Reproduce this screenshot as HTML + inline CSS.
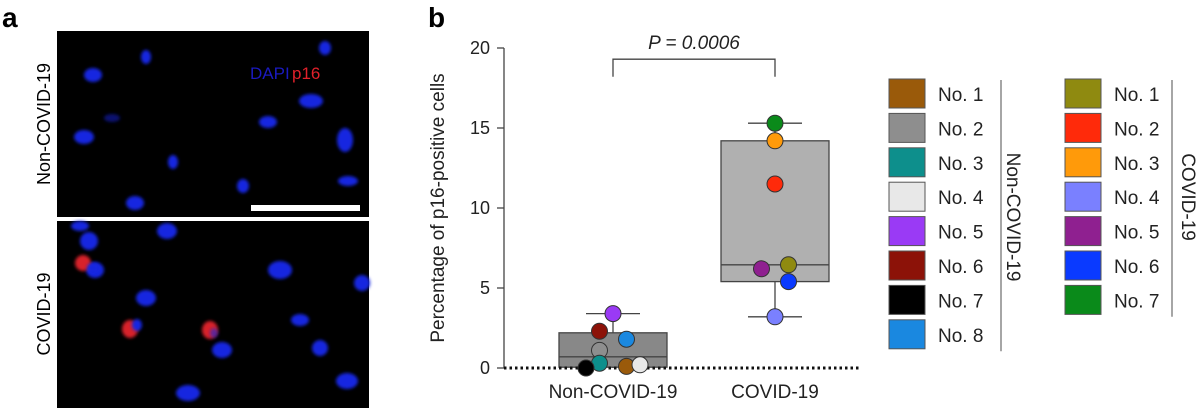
<!DOCTYPE html>
<html><head><meta charset="utf-8"><style>
body{margin:0;background:#fff;width:1200px;height:408px;overflow:hidden;font-family:"Liberation Sans",sans-serif}
svg{display:block}
</style></head><body>
<svg width="1200" height="408">
<defs><filter id="bl" x="-50%" y="-50%" width="200%" height="200%"><feGaussianBlur stdDeviation="1.5"/></filter></defs>
<g>
<text x="2" y="27" font-size="28" font-weight="bold">a</text>
<rect x="57" y="31" width="312" height="186" fill="#000"/>
<rect x="57" y="221" width="312" height="187" fill="#000"/>
<g fill="#1525e0" filter="url(#bl)">
<ellipse cx="93" cy="75" rx="9" ry="7"/><ellipse cx="146" cy="57" rx="5" ry="7"/><ellipse cx="325" cy="48" rx="6" ry="7"/>
<ellipse cx="311" cy="101" rx="12" ry="7"/><ellipse cx="84" cy="137" rx="10" ry="7"/><ellipse cx="268" cy="122" rx="9" ry="6"/>
<ellipse cx="173" cy="162" rx="5" ry="7"/><ellipse cx="243" cy="186" rx="6" ry="7"/><ellipse cx="135" cy="203" rx="9" ry="7"/>
<ellipse cx="345" cy="140" rx="8" ry="12"/><ellipse cx="348" cy="181" rx="10" ry="5"/><ellipse cx="112" cy="118" rx="8" ry="4" opacity=".5"/>
<ellipse cx="80" cy="226" rx="9" ry="5"/><ellipse cx="89" cy="241" rx="9" ry="9"/><ellipse cx="167" cy="231" rx="10" ry="8"/>
<ellipse cx="280" cy="270" rx="12" ry="9"/><ellipse cx="146" cy="298" rx="10" ry="8"/><ellipse cx="300" cy="320" rx="9" ry="6"/>
<ellipse cx="222" cy="350" rx="10" ry="8"/><ellipse cx="320" cy="348" rx="8" ry="8"/><ellipse cx="347" cy="381" rx="11" ry="8"/>
<ellipse cx="188" cy="393" rx="12" ry="8"/><ellipse cx="362" cy="283" rx="8" ry="8"/><ellipse cx="95" cy="270" rx="9" ry="8"/>
</g>
<g fill="#d8202a" filter="url(#bl)">
<ellipse cx="83" cy="263" rx="8" ry="8"/><ellipse cx="130" cy="329" rx="8" ry="9"/><ellipse cx="210" cy="330" rx="8" ry="9"/>
</g>
<g fill="#1525e0" filter="url(#bl)"><ellipse cx="137" cy="325" rx="5" ry="6"/><ellipse cx="214" cy="333" rx="4" ry="5" opacity=".6"/><ellipse cx="93" cy="268" rx="6" ry="5"/></g>
<text x="250" y="79" font-size="17" fill="#1a1ac0">DAPI</text>
<text x="292" y="79" font-size="17" fill="#e0202a">p16</text>
<rect x="251" y="205" width="109" height="6" fill="#fff"/>
<text transform="translate(50,124) rotate(-90)" text-anchor="middle" font-size="18">Non-COVID-19</text>
<text transform="translate(50,314) rotate(-90)" text-anchor="middle" font-size="18">COVID-19</text>
</g>
<text x="428" y="27" font-size="28" font-weight="bold">b</text>
<g id="chart"></g>
<g id="legend"></g>
</svg>
<script>
const groups=["Non-COVID-19","COVID-19"];
const yTicks=[0,5,10,15,20];
const nonValues=[0.1,1.1,0.3,0.2,3.4,2.3,0,1.8];
const nonColors=["#9a5a0a","#8e8e8e","#0d8f8c","#e8e8e8","#9a3af5","#8c1208","#000000","#1a88e0"];
const nonJitter=[1,-1,-1,2,0,-1,-2,1];
const covValues=[6.45,11.5,14.2,3.2,6.2,5.4,15.3];
const covColors=["#8f8a10","#ff2a0a","#ff9a0a","#7a80ff","#8f2090","#0a3aff","#0a8a1a"];
const covJitter=[1,0,0,0,-1,1,0];
const boxStats=[{lo:0,q1:0.05,med:0.7,q3:2.2,hi:3.4},{lo:3.2,q1:5.4,med:6.45,q3:14.2,hi:15.3}];
const boxFill=["#888","#b0b0b0"];
const pText="P = 0.0006";
const NS="http://www.w3.org/2000/svg";
const y=v=>368-v*16;
const x=i=>613+i*162;
const jit=13.5;
function mk(p,t,a){const e=document.createElementNS(NS,t);for(const k in a)e.setAttribute(k,a[k]);p.appendChild(e);return e;}
const c=document.getElementById('chart');
let ax=mk(c,'line',{x1:504,x2:504,y1:y(20),y2:y(0),stroke:'#444','stroke-width':1.3});


yTicks.forEach(t=>{
 let l=mk(c,'line',{x1:497,x2:504,y1:y(t),y2:y(t),stroke:'#444','stroke-width':1.3});
 
 
 let tx=mk(c,'text',{x:490,y:y(t)+6,'text-anchor':'end','font-size':18,fill:'#222'});tx.textContent=t;
 
 
});
let yt=mk(c,'text',{transform:'translate(444,208) rotate(-90)','text-anchor':'middle','font-size':19,fill:'#222'});yt.textContent='Percentage of p16-positive cells';


boxStats.forEach((s,i)=>{
 const cx=x(i);
 let w=mk(c,'line',{x1:cx,x2:cx,y1:y(s.hi),y2:y(s.lo),stroke:'#444','stroke-width':1.3});
 
 
 [s.hi,s.lo].forEach(v=>{if(v>0){let cp=mk(c,'line',{x1:cx-27,x2:cx+27,y1:y(v),y2:y(v),stroke:'#444','stroke-width':1.3});
 
 }});
 let b=mk(c,'rect',{x:cx-54,y:y(s.q3),width:108,height:y(s.q1)-y(s.q3),fill:boxFill[i],stroke:'#444','stroke-width':1.3});
 
 
 let m=mk(c,'line',{x1:cx-54,x2:cx+54,y1:y(s.med),y2:y(s.med),stroke:'#444','stroke-width':1.3});
 
 
 let xl=mk(c,'text',{x:cx,y:398,'text-anchor':'middle','font-size':19,fill:'#222'});xl.textContent=groups[i];
 
 
});
let base=mk(c,'line',{x1:504,x2:860,y1:368,y2:368,stroke:'#111','stroke-width':3,'stroke-dasharray':'2.5 3'});


[[nonValues,nonColors,nonJitter,0],[covValues,covColors,covJitter,1]].forEach(([vals,cols,j,g])=>{
 vals.forEach((v,k)=>{
  let d=mk(c,'circle',{cx:x(g)+j[k]*jit,cy:y(v),r:8,fill:cols[k],stroke:'#333','stroke-width':1});
  
  
 });
});
let br=mk(c,'path',{d:`M${x(0)} ${y(18.2)}V${y(19.3)}H${x(1)}V${y(18.2)}`,fill:'none',stroke:'#444','stroke-width':1.3});


let pt=mk(c,'text',{x:694,y:49,'text-anchor':'middle','font-size':19,'font-style':'italic',fill:'#222'});pt.textContent=pText;


const lg=document.getElementById('legend');
function legend(cols,sx,lx,title,tx,ty){
 cols.forEach((col,k)=>{
  const yy=79+k*34.4;
  let r=mk(lg,'rect',{x:sx,y:yy,width:36,height:29,fill:col,stroke:'#555','stroke-width':1});
  
  
  let t=mk(lg,'text',{x:sx+49,y:yy+22,'font-size':19,fill:'#222'});t.textContent='No. '+(k+1);
  
  
 });
 let l=mk(lg,'line',{x1:lx,x2:lx,y1:80,y2:80+cols.length*34.4-4,stroke:'#777','stroke-width':1.3});
 
 
 let tt=mk(lg,'text',{transform:`translate(${tx},${ty}) rotate(90)`,'text-anchor':'middle','font-size':19,fill:'#222'});tt.textContent=title;
 
 
}
legend(nonColors,889,1001,'Non-COVID-19',1007,217);
legend(covColors,1065,1172,'COVID-19',1182,197);
</script>
</body></html>
